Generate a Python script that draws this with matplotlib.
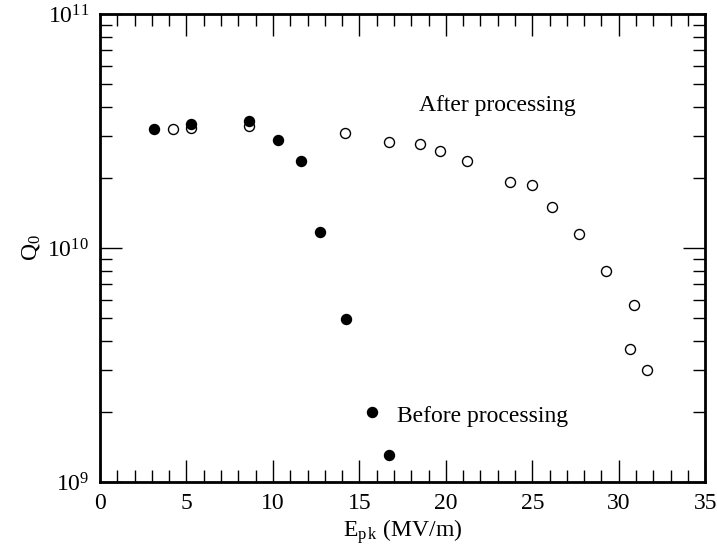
#Q0 vs peak surface field, before and after processing

import numpy as np
import matplotlib
matplotlib.use('Agg')
import matplotlib.pyplot as plt
from matplotlib.ticker import MultipleLocator, LogLocator, NullFormatter

plt.rcParams['font.family'] = ['Liberation Serif', 'DejaVu Serif']
plt.rcParams['mathtext.fontset'] = 'custom'
plt.rcParams['mathtext.rm'] = 'Liberation Serif'
plt.rcParams['mathtext.it'] = 'Liberation Serif:italic'
plt.rcParams['font.size'] = 17

#data
before_epk = [3.12, 5.27, 8.60, 10.27, 11.61, 12.74, 14.20, 15.71, 16.74]
before_q0 = [3.23e10, 3.40e10, 3.50e10, 2.90e10, 2.36e10, 1.17e10, 4.99e9, 2.00e9, 1.30e9]

after_epk = [4.23, 5.29, 8.60, 14.16, 16.74, 18.52, 19.65, 21.22, 23.74,
             24.96, 26.13, 27.68, 29.24, 30.86, 30.65, 31.65]
after_q0 = [3.21e10, 3.26e10, 3.33e10, 3.11e10, 2.84e10, 2.78e10, 2.59e10, 2.36e10, 1.92e10,
            1.85e10, 1.49e10, 1.15e10, 7.94e9, 5.71e9, 3.69e9, 3.00e9]

x_ticks = [0, 5, 10, 15, 20, 25, 30, 35]
y_ticks = [1e9, 1e10, 1e11]
y_tick_labels = ['$10^9$', '$10^{10}$', '$10^{11}$']

fig = plt.figure(figsize=(7.17, 5.52), dpi=100)
ax = fig.add_axes([0.1395, 0.1268, 0.844, 0.8478])

ax.plot(before_epk, before_q0, 'o', color='black', markersize=7.2, zorder=3)
ax.plot(after_epk, after_q0, 'o', markerfacecolor='white', markeredgecolor='black',
        markeredgewidth=1.0, markersize=7.2, zorder=2)

ax.set_yscale('log')
ax.set_xlim(0, 35)
ax.set_ylim(1e9, 1e11)

ax.set_xticks(x_ticks)
ax.xaxis.set_minor_locator(MultipleLocator(1))
ax.set_yticks(y_ticks)
ax.set_yticklabels(y_tick_labels)
ax.yaxis.set_minor_locator(LogLocator(base=10, subs=np.arange(2, 10)))
ax.yaxis.set_minor_formatter(NullFormatter())

ax.tick_params(which='both', direction='in', top=True, right=True, width=1.0)
ax.tick_params(which='major', length=16, pad=8)
ax.tick_params(which='minor', length=8.5)
for sp in ax.spines.values():
    sp.set_linewidth(2)

ax.text(18.45, 4.08e10, 'After processing', va='center', ha='left')
ax.text(17.18, 1.90e9, 'Before processing', va='center', ha='left')

ax.set_xlabel(r'E$_{\rm p\,k}$ (MV/m)', labelpad=2)
ax.set_ylabel(r'Q$_0$', labelpad=4)

plt.savefig('out.png', dpi=100)
